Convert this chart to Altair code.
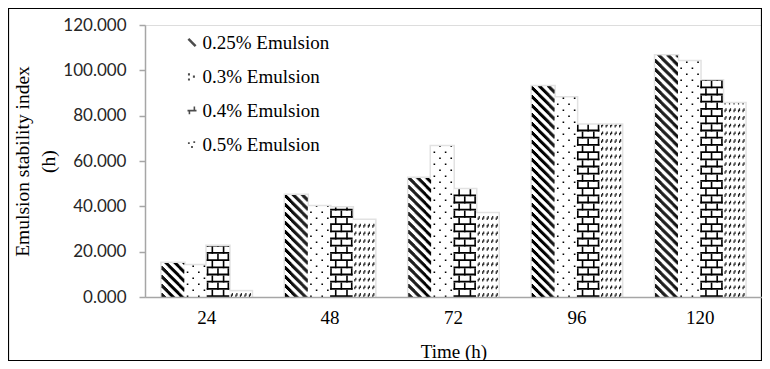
import altair as alt
import pandas as pd

# ---- data ----
times = ["24", "48", "72", "96", "120"]
series = ["0.25% Emulsion", "0.3% Emulsion", "0.4% Emulsion", "0.5% Emulsion"]
esi_025 = [15.0, 45.0, 52.5, 93.0, 106.5]
esi_03 = [14.0, 40.0, 66.5, 88.0, 104.0]
esi_04 = [22.5, 39.5, 47.5, 76.0, 95.5]
esi_05 = [2.5, 34.0, 37.0, 76.0, 85.5]
y_ticks = [0, 20, 40, 60, 80, 100, 120]

SERIF = "Liberation Serif"
SANS = "Lato"
BAR_W = 22.5  # pixel width of one bar (band width / 4)

rows = []
for s, vals in zip(series, [esi_025, esi_03, esi_04, esi_05]):
    for t, v in zip(times, vals):
        rows.append({"time": t, "series": s, "esi": v})
table = pd.DataFrame(rows)

# ---- shared encodings ----
x_enc = alt.X(
    "time:N", sort=times,
    scale=alt.Scale(paddingInner=0.27, paddingOuter=0.135),
    axis=alt.Axis(
        title="Time (h)", labelAngle=0, ticks=False,
        labelFont=SERIF, labelFontSize=19, labelColor="black", labelPadding=11,
        domainColor="#a6a6a6", domainWidth=1.5,
        titleFont=SERIF, titleFontSize=19, titleFontWeight=400,
        titleColor="black", titlePadding=15, zindex=1,
    ),
)
y_scale = alt.Scale(domain=[0, 120], nice=False, zero=True)
y_axis = alt.Axis(
    values=y_ticks, format=".3f", grid=False,
    labelFont=SANS, labelFontSize=17, labelColor="#262626", labelPadding=13,
    tickSize=6, tickColor="#a6a6a6", tickWidth=1.5,
    domainColor="#a6a6a6", domainWidth=1.5,
    title=["Emulsion stability index", "(h)"],
    titleFont=SERIF, titleFontSize=19.5, titleFontWeight=400,
    titleColor="black", titleLineHeight=26, titleAngle=270,
    titleBaseline="middle", titleAlign="center", titleX=-123, titleY=136,
    zindex=1,
)
off_enc = alt.XOffset("pos:Q", scale=alt.Scale(domain=[0, 4], nice=False, zero=False))
y_base = alt.Y("base:Q", scale=y_scale, axis=y_axis)


def rules(s_idx, fracs, width, dash=None, dash_offset=0, color="black", top_extra=0):
    sub = table[table["series"] == series[s_idx]]
    df = pd.concat([sub.assign(pos=s_idx + f, base=0) for f in fracs], ignore_index=True)
    kw = dict(strokeWidth=width, color=color)
    if dash is not None:
        kw["strokeDash"] = dash
        kw["strokeDashOffset"] = dash_offset
    if top_extra:
        kw["y2Offset"] = -top_extra
    return alt.Chart(df).mark_rule(**kw).encode(
        x=x_enc, xOffset=off_enc, y=y_base, y2=alt.Y2("esi:Q"),
    )


layers = []
# soft shadow around bars, then white bar bodies
for s in range(4):
    layers.append(rules(s, [0.5], BAR_W + 3, color="#e2e2e2", top_extra=1.5))
for s in range(4):
    layers.append(rules(s, [0.5], BAR_W, color="white"))
# 0.25 %: diagonal "\" hatching
for c in range(22):
    layers.append(rules(0, [(c + 0.5) / 22], 1.3, [4, 5], (c * BAR_W / 22) % 9))
# 0.3 %: staggered dots
layers.append(rules(1, [0.15, 0.65], 1.6, [1.6, 10.4], 0))
layers.append(rules(1, [0.40, 0.90], 1.6, [1.6, 10.4], 6))
# 0.4 %: brick
layers.append(rules(2, [0.5], BAR_W, [1.8, 5.4], 0))
layers.append(rules(2, [0.25, 0.75], 1.6, [7.2, 7.2], 0))
layers.append(rules(2, [0.04, 0.5, 0.96], 1.6, [7.2, 7.2], 7.2))
# 0.5 %: rows of small slashes
slash_x = [0.12, 0.32, 0.52, 0.72, 0.92]
layers.append(rules(3, [f - 0.022 for f in slash_x], 1.2, [2.6, 5.1], 0, "#222222"))
layers.append(rules(3, [f + 0.022 for f in slash_x], 1.2, [2.6, 5.1], 6.4, "#222222"))

symbol_paths = [
    "M-1,-0.6L-0.6,-1L1,0.6L0.6,1Z",
    "M-0.9,-0.7h0.45v0.45h-0.45Z M0.2,-0.2h0.45v0.45h-0.45Z M-0.9,0.45h0.45v0.45h-0.45Z",
    "M-1,-0.15h2v0.35h-2Z M-0.75,-0.15h0.35v1h-0.35Z M0.35,-0.9h0.35v0.75h-0.35Z",
    "M-0.9,-0.5h0.4v0.4h-0.4Z M0.3,-0.75h0.4v0.4h-0.4Z M-0.2,0.35h0.4v0.4h-0.4Z",
]
legend_layer = alt.Chart(pd.DataFrame({"series": series})).mark_point(
    filled=True, size=0, color="black"
).encode(
    shape=alt.Shape(
        "series:N", sort=series,
        scale=alt.Scale(domain=series, range=symbol_paths),
        legend=alt.Legend(
            title=None, orient="none", legendX=37.5, legendY=8,
            labelFont=SERIF, labelFontSize=19, labelColor="black",
            symbolSize=81, symbolFillColor="black", symbolStrokeWidth=0,
            rowPadding=14, padding=0, labelOffset=1,
        ),
    )
)
layers.append(legend_layer)

frame = alt.Chart(pd.DataFrame({"k": [0]})).mark_rect(
    filled=False, color="black", strokeWidth=1.2
).encode(
    x=alt.value(-136.5), x2=alt.value(616.5), y=alt.value(-16.5), y2=alt.value(335.5)
)
layers.append(frame)

chart = alt.layer(*layers).properties(
    width=617, height=272,
    padding={"left": 137, "top": 17, "right": 0, "bottom": 64},
    autosize=alt.AutoSizeParams(type="none"),
).configure_view(
    stroke="transparent"
).configure_legend(
    labelFont=SERIF, labelFontSize=19, labelColor="black"
).configure(background="white")

chart.save("out.html", embed_options={"renderer": "svg", "actions": False})
